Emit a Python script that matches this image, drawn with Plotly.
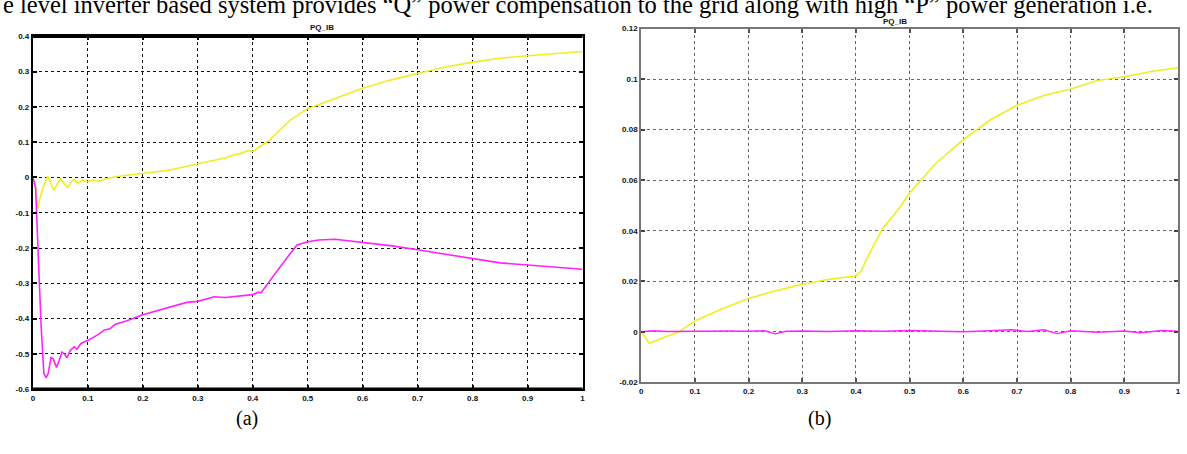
import plotly.graph_objects as go

W, H = 1187, 454

# ---- data: panel (a) ----
a_yellow_t = [0, 0.004, 0.009, 0.013, 0.02, 0.027, 0.033, 0.038, 0.045, 0.05, 0.057, 0.063,
              0.07, 0.075, 0.082, 0.09, 0.1, 0.11, 0.12, 0.135, 0.15, 0.17, 0.2, 0.23, 0.25,
              0.3, 0.35, 0.365, 0.38, 0.39, 0.4, 0.43, 0.47, 0.5, 0.55, 0.6, 0.65, 0.7, 0.75,
              0.8, 0.85, 0.9, 0.95, 1.0]
a_yellow_v = [0, -0.012, -0.088, -0.058, -0.021, 0.004, -0.017, -0.036, -0.017, -0.003, -0.017,
              -0.028, -0.012, -0.005, -0.018, -0.007, -0.012, -0.007, -0.011, -0.003, 0.002,
              0.006, 0.011, 0.017, 0.021, 0.039, 0.055, 0.064, 0.069, 0.076, 0.074, 0.105,
              0.165, 0.195, 0.225, 0.253, 0.276, 0.294, 0.313, 0.327, 0.338, 0.345, 0.350, 0.357]

a_mag_t = [0, 0.005, 0.01, 0.015, 0.02, 0.024, 0.028, 0.033, 0.037, 0.043, 0.048, 0.053, 0.058,
           0.062, 0.068, 0.075, 0.08, 0.087, 0.095, 0.1, 0.11, 0.12, 0.13, 0.14, 0.15, 0.17,
           0.2, 0.22, 0.25, 0.28, 0.3, 0.33, 0.35, 0.38, 0.4, 0.41, 0.415, 0.45, 0.48, 0.5,
           0.52, 0.55, 0.6, 0.65, 0.7, 0.75, 0.8, 0.85, 0.9, 0.95, 1.0]
a_mag_v = [0, -0.03, -0.23, -0.42, -0.555, -0.568, -0.555, -0.51, -0.514, -0.538, -0.518,
           -0.495, -0.501, -0.511, -0.49, -0.48, -0.487, -0.471, -0.465, -0.462, -0.453,
           -0.444, -0.432, -0.429, -0.416, -0.407, -0.389, -0.38, -0.366, -0.354, -0.351,
           -0.338, -0.34, -0.335, -0.332, -0.325, -0.327, -0.253, -0.192, -0.182, -0.177,
           -0.175, -0.184, -0.193, -0.205, -0.218, -0.230, -0.242, -0.248, -0.253, -0.260]

# ---- data: panel (b) ----
b_yellow_t = [0, 0.015, 0.04, 0.07, 0.1, 0.15, 0.2, 0.25, 0.3, 0.35, 0.4, 0.41, 0.42, 0.45,
              0.48, 0.5, 0.55, 0.6, 0.65, 0.7, 0.75, 0.8, 0.85, 0.9, 0.95, 1.0]
b_yellow_v = [0, -0.0045, -0.0025, 0.0, 0.0043, 0.009, 0.0132, 0.0162, 0.0188, 0.0208, 0.0221,
              0.024, 0.029, 0.041, 0.0487, 0.055, 0.0669, 0.076, 0.0838, 0.0896, 0.0935,
              0.0961, 0.0994, 0.1009, 0.103, 0.1045]

b_mag_t = [0, 0.02, 0.05, 0.08, 0.1, 0.13, 0.16, 0.2, 0.23, 0.25, 0.27, 0.3, 0.35, 0.4, 0.45,
           0.5, 0.55, 0.6, 0.65, 0.69, 0.72, 0.75, 0.775, 0.8, 0.85, 0.9, 0.93, 0.97, 1.0]
b_mag_v = [0, 0.0004, 0.0001, 0.0002, 0.0003, 0.0001, 0.0003, 0.0002, 0.0004, -0.0008, 0.0002,
           0.0003, 0.0001, 0.0004, 0.0002, 0.0005, 0.0003, 0.0, 0.0004, 0.0008, 0.0001, 0.0008,
           -0.0007, 0.0004, -0.0002, 0.0003, -0.0004, 0.0005, 0.0002]

# ---- tick labels ----
x_ticks = [0, 0.1, 0.2, 0.3, 0.4, 0.5, 0.6, 0.7, 0.8, 0.9, 1]
x_labels = ["0", "0.1", "0.2", "0.3", "0.4", "0.5", "0.6", "0.7", "0.8", "0.9", "1"]
a_y_ticks = [-0.6, -0.5, -0.4, -0.3, -0.2, -0.1, 0, 0.1, 0.2, 0.3, 0.4]
a_y_labels = ["-0.6", "-0.5", "-0.4", "-0.3", "-0.2", "-0.1", "0", "0.1", "0.2", "0.3", "0.4"]
b_y_ticks = [-0.02, 0, 0.02, 0.04, 0.06, 0.08, 0.1, 0.12]
b_y_labels = ["-0.02", "0", "0.02", "0.04", "0.06", "0.08", "0.1", "0.12"]

panel_title = "PQ_IB"
caption = 'e level inverter based system provides \u201cQ\u201d power compensation to the grid along with high \u201cP\u201d power generation i.e.'

YEL = "#eeee22"
MAG = "#ff22ff"

fig = go.Figure()
fig.add_trace(go.Scatter(x=a_yellow_t, y=a_yellow_v, mode="lines", line=dict(color=YEL, width=1.6),
                         xaxis="x", yaxis="y", showlegend=False))
fig.add_trace(go.Scatter(x=a_mag_t, y=a_mag_v, mode="lines", line=dict(color=MAG, width=1.6),
                         xaxis="x", yaxis="y", showlegend=False))
fig.add_trace(go.Scatter(x=b_yellow_t, y=b_yellow_v, mode="lines", line=dict(color=YEL, width=1.6),
                         xaxis="x2", yaxis="y2", showlegend=False))
fig.add_trace(go.Scatter(x=b_mag_t, y=b_mag_v, mode="lines", line=dict(color=MAG, width=1.4),
                         xaxis="x2", yaxis="y2", showlegend=False))

def px_x(p):
    return p / W

def px_y(p):
    return 1 - p / H

tickfont = dict(family="Arial", size=8, color="#111", weight="bold")

# panel (a) axes
ax_l, ax_r, ax_t, ax_b = 31, 583, 33, 393
# panel (b) axes
bx_l, bx_r, bx_t, bx_b = 642, 1181, 25, 386

common_x = dict(range=[0, 1], tickvals=x_ticks, ticktext=x_labels, showgrid=True,
                griddash="dot", zeroline=False, ticks="inside", ticklen=4, tickwidth=1.5,
                mirror="ticks", showline=True, tickfont=tickfont)

fig.update_layout(
    width=W, height=H, margin=dict(l=0, r=0, t=0, b=0),
    paper_bgcolor="white", plot_bgcolor="white",
    xaxis=dict(domain=[px_x(ax_l), px_x(ax_r)], anchor="y", gridcolor="#111", gridwidth=1.3,
               linecolor="black", linewidth=2, tickcolor="black", **common_x),
    yaxis=dict(domain=[px_y(ax_b), px_y(ax_t)], anchor="x", range=[-0.6, 0.4],
               tickvals=a_y_ticks, ticktext=a_y_labels, showgrid=True, griddash="dot",
               gridcolor="#111", gridwidth=1.3, zeroline=False, ticks="inside", ticklen=4,
               tickwidth=1.5, tickcolor="black", mirror="ticks", showline=True,
               linecolor="black", linewidth=2, tickfont=tickfont),
    xaxis2=dict(domain=[px_x(bx_l), px_x(bx_r)], anchor="y2", gridcolor="#666", gridwidth=1.2,
                linecolor="#777", linewidth=2, tickcolor="#555", **common_x),
    yaxis2=dict(domain=[px_y(bx_b), px_y(bx_t)], anchor="x2", range=[-0.02, 0.12],
                tickvals=b_y_ticks, ticktext=b_y_labels, showgrid=True, griddash="dot",
                gridcolor="#666", gridwidth=1.2, zeroline=False, ticks="inside", ticklen=4,
                tickwidth=1.5, tickcolor="#444", mirror="ticks", showline=True,
                linecolor="#777", linewidth=2, tickfont=tickfont),
)

# thicker top/bottom frame on panel (a)
for yy in (ax_t, ax_b):
    fig.add_shape(type="line", xref="paper", yref="paper", x0=px_x(ax_l), x1=px_x(ax_r),
                  y0=px_y(yy), y1=px_y(yy), line=dict(color="black", width=3.5))

# panel titles
titlefont = dict(family="Arial", size=8, color="#111", weight="bold")
fig.add_annotation(text=panel_title, xref="paper", yref="paper", x=px_x(307), y=px_y(31),
                   yanchor="bottom", showarrow=False, font=titlefont)
fig.add_annotation(text=panel_title, xref="paper", yref="paper", x=px_x(911), y=px_y(24),
                   yanchor="bottom", showarrow=False, font=titlefont)

# caption text at top
fig.add_annotation(text=caption, xref="paper", yref="paper", x=px_x(-1), y=px_y(1),
                   xanchor="left", yanchor="middle", showarrow=False,
                   font=dict(family="Liberation Serif", size=24.5, color="black"))

# sub-figure labels
fig.add_annotation(text="(a)", xref="paper", yref="paper", x=px_x(233), y=px_y(437),
                   showarrow=False, font=dict(family="Liberation Serif", size=20, color="black"))
fig.add_annotation(text="(b)", xref="paper", yref="paper", x=px_x(835), y=px_y(437),
                   showarrow=False, font=dict(family="Liberation Serif", size=20, color="black"))

fig.write_html("out.html")
